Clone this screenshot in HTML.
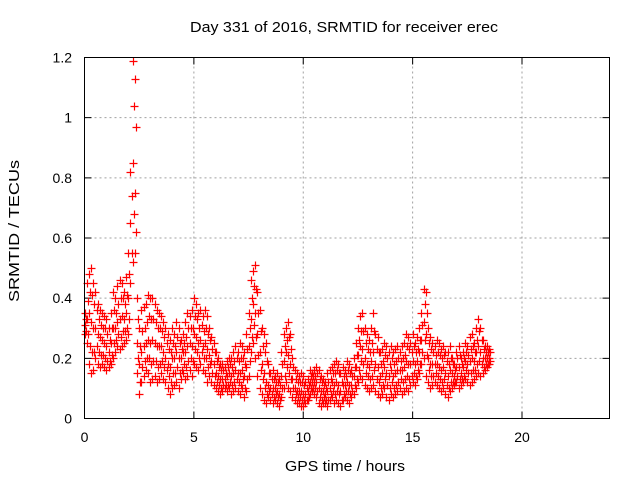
<!DOCTYPE html>
<html><head><meta charset="utf-8"><style>
body{margin:0;background:#fff}
svg text{font-family:"Liberation Sans",sans-serif;font-size:14px;fill:#000}
</style></head><body>
<svg id="chart" width="640" height="480" viewBox="0 0 640 480" xmlns="http://www.w3.org/2000/svg">
<rect width="640" height="480" fill="#fff"/>
<text x="190" y="32" textLength="308" lengthAdjust="spacingAndGlyphs" style="font-size:15px">Day 331 of 2016, SRMTID for receiver erec</text>
<text transform="translate(19,302) rotate(-90)" textLength="142" lengthAdjust="spacingAndGlyphs" style="font-size:15px">SRMTID / TECUs</text>
<text x="285" y="471" textLength="120" lengthAdjust="spacingAndGlyphs" style="font-size:15px">GPS time / hours</text>
<g id="grid"></g>
<g id="ticks"></g>
<g id="marks"></g>
<rect x="84.5" y="57.5" width="525" height="361" fill="none" stroke="#000"/>
</svg>
<script>
const xTicks=[0,5,10,15,20];
const yTicks=[0,0.2,0.4,0.6,0.8,1,1.2];
const yTickLabels=["0","0.2","0.4","0.6","0.8","1","1.2"];
const tStart=0, tStep=0.1;
const hiVals=[.35,.45,.48,.50,.45,.42,.38,.36,.35,.34,.33,.30,.35,.42,.40,.44,.46,.45,.42,.47,.55,.82,1.19,1.13,.40,.30,.36,.37,.38,.41,.40,.40,.38,.36,.35,.34,.32,.30,.28,.26,.30,.28,.32,.30,.26,.28,.32,.35,.34,.36,.40,.38,.35,.36,.34,.36,.34,.30,.27,.25,.22,.20,.18,.18,.17,.19,.20,.20,.22,.24,.22,.25,.24,.22,.28,.35,.46,.49,.51,.42,.36,.30,.28,.25,.18,.15,.16,.14,.15,.13,.22,.28,.30,.32,.28,.20,.16,.15,.14,.15,.14,.12,.13,.16,.15,.16,.17,.16,.14,.13,.12,.15,.16,.17,.18,.19,.18,.15,.17,.16,.19,.18,.16,.20,.25,.30,.34,.35,.30,.28,.26,.30,.35,.28,.27,.22,.23,.25,.24,.22,.24,.22,.23,.24,.22,.24,.25,.28,.27,.25,.28,.25,.27,.30,.35,.43,.42,.30,.27,.25,.24,.26,.25,.23,.24,.22,.22,.24,.20,.18,.22,.24,.20,.22,.25,.24,.27,.28,.25,.30,.33,.30,.26,.24,.24,.23];
const q3Vals=[.33,.39,.42,.41,.38,.36,.33,.31,.30,.30,.28,.26,.30,.36,.35,.38,.40,.40,.38,.41,.48,.74,1.04,.97,.33,.24,.29,.30,.32,.34,.33,.33,.32,.30,.30,.29,.27,.25,.23,.22,.25,.24,.27,.25,.23,.25,.27,.30,.30,.30,.34,.33,.30,.31,.29,.30,.28,.26,.23,.22,.19,.17,.16,.16,.15,.17,.18,.17,.19,.20,.19,.20,.20,.18,.23,.30,.40,.44,.43,.35,.29,.24,.22,.19,.15,.13,.13,.12,.12,.11,.18,.24,.26,.27,.23,.17,.13,.12,.12,.12,.11,.10,.11,.14,.14,.14,.15,.13,.12,.11,.10,.12,.13,.15,.15,.16,.15,.12,.14,.14,.16,.15,.14,.17,.21,.26,.29,.29,.25,.23,.22,.25,.29,.23,.22,.18,.19,.21,.20,.18,.20,.18,.19,.20,.19,.20,.21,.24,.23,.22,.24,.22,.23,.26,.31,.38,.35,.25,.23,.22,.21,.22,.21,.20,.21,.19,.18,.20,.18,.16,.20,.21,.18,.20,.22,.21,.23,.24,.22,.26,.29,.26,.23,.22,.22,.22];
const midVals=[.31,.33,.35,.32,.30,.30,.28,.27,.26,.25,.24,.22,.25,.30,.30,.32,.33,.34,.33,.35,.40,.65,.85,.75,.25,.18,.22,.24,.25,.26,.25,.26,.25,.24,.24,.24,.22,.20,.18,.17,.20,.20,.22,.20,.20,.22,.22,.24,.25,.24,.28,.27,.25,.26,.24,.25,.23,.21,.19,.18,.15,.14,.13,.13,.13,.14,.15,.14,.15,.16,.15,.15,.16,.14,.17,.24,.33,.38,.35,.28,.22,.18,.15,.12,.11,.10,.10,.10,.09,.08,.14,.19,.22,.21,.18,.13,.10,.09,.09,.09,.08,.08,.09,.12,.12,.12,.12,.10,.09,.09,.08,.09,.10,.12,.11,.12,.11,.09,.11,.11,.12,.11,.11,.14,.17,.21,.24,.23,.20,.18,.17,.19,.22,.18,.17,.14,.15,.17,.15,.14,.16,.14,.15,.16,.16,.16,.17,.19,.18,.18,.19,.18,.19,.22,.26,.32,.28,.20,.18,.18,.18,.18,.17,.16,.17,.15,.14,.16,.15,.14,.17,.17,.15,.17,.19,.18,.19,.20,.19,.22,.24,.22,.20,.20,.20,.20];
const q1Vals=[.29,.28,.24,.22,.22,.24,.22,.21,.21,.20,.19,.19,.21,.25,.26,.28,.27,.29,.29,.30,.33,.55,.68,.62,.20,.12,.17,.19,.20,.20,.18,.19,.19,.17,.18,.19,.17,.16,.14,.12,.15,.15,.17,.15,.16,.18,.17,.19,.20,.19,.23,.22,.20,.22,.20,.20,.17,.18,.15,.14,.12,.11,.10,.11,.11,.11,.12,.11,.12,.13,.12,.11,.13,.10,.13,.19,.27,.31,.27,.21,.16,.13,.10,.08,.09,.08,.07,.08,.07,.06,.10,.14,.17,.15,.13,.10,.08,.07,.07,.06,.06,.06,.07,.10,.10,.10,.09,.07,.06,.07,.06,.06,.08,.09,.08,.09,.08,.06,.08,.09,.09,.08,.09,.11,.13,.16,.19,.18,.15,.14,.13,.14,.16,.13,.12,.10,.11,.13,.11,.10,.12,.10,.11,.12,.13,.12,.13,.14,.13,.14,.15,.14,.16,.18,.22,.26,.21,.16,.14,.14,.15,.14,.13,.12,.13,.11,.10,.12,.12,.12,.14,.13,.13,.14,.16,.15,.15,.16,.16,.18,.19,.18,.17,.18,.18,.19];
const loVals=[.28,.25,.18,.15,.16,.20,.18,.17,.18,.17,.16,.17,.18,.20,.22,.24,.23,.24,.25,.26,.28,.45,.52,.55,.15,.08,.12,.14,.16,.15,.12,.13,.14,.12,.13,.15,.13,.12,.10,.08,.10,.11,.12,.10,.13,.15,.13,.14,.16,.14,.18,.17,.16,.18,.16,.15,.12,.14,.12,.11,.10,.09,.08,.09,.10,.09,.10,.08,.09,.10,.09,.08,.10,.07,.09,.14,.22,.25,.20,.14,.10,.08,.06,.05,.07,.06,.05,.06,.05,.04,.07,.10,.12,.10,.09,.07,.06,.05,.05,.04,.04,.05,.06,.08,.09,.08,.07,.05,.04,.05,.05,.04,.06,.07,.05,.06,.05,.04,.06,.07,.06,.05,.07,.08,.10,.12,.14,.13,.11,.10,.09,.10,.11,.09,.08,.07,.08,.10,.07,.06,.08,.07,.08,.09,.10,.08,.09,.10,.09,.11,.12,.11,.13,.15,.18,.20,.14,.12,.10,.11,.12,.11,.10,.09,.10,.08,.07,.09,.10,.11,.12,.10,.11,.12,.13,.12,.11,.12,.13,.14,.15,.14,.15,.16,.17,.18];
const NS="http://www.w3.org/2000/svg";
const X0=84.5,X1=609.5,Y0=418.5,Y1=57.5;
function xs(t){return X0+(t-0)/(24-0)*(X1-X0);}
function ys(v){return Y0-(v-0)/(1.2-0)*(Y0-Y1);}
const grid=document.getElementById('grid'),ticks=document.getElementById('ticks'),marks=document.getElementById('marks');
function mk(tag,attrs,parent){const e=document.createElementNS(NS,tag);for(const k in attrs)e.setAttribute(k,attrs[k]);parent.appendChild(e);return e;}
xTicks.forEach(t=>{
  const x=xs(t);
  if(t>0){const l=mk('line',{x1:x,x2:x,y1:Y0,y2:Y1,stroke:'#a0a0a0','stroke-dasharray':'2,3'},grid);
  
  }
  const tk=mk('path',{d:`M${x},${Y0}v-7M${x},${Y1}v7`,stroke:'#000'},grid);
  
  
  const tx=mk('text',{x:x,y:442,'text-anchor':'middle'},ticks);tx.textContent=String(t);
  
  
});
yTicks.forEach((v,i)=>{
  const y=ys(v);
  if(v>0&&v<1.2){const l=mk('line',{x1:X0,x2:X1,y1:y,y2:y,stroke:'#a0a0a0','stroke-dasharray':'2,3'},grid);
  
  }
  const tk=mk('path',{d:`M${X0},${y}h7M${X1},${y}h-7`,stroke:'#000'},grid);
  
  
  const tx=mk('text',{x:72,y:y+5,'text-anchor':'end'},ticks);tx.textContent=yTickLabels[i];
  
  
});
const seriesList=[[loVals,0],[q1Vals,0.05],[midVals,0],[q3Vals,0.05],[hiVals,0]];
seriesList.forEach(([arr,dt])=>{
  arr.forEach((v,i)=>{
    const t=tStart+i*tStep+dt;
    const x=Math.round(xs(t))+0.5,y=Math.round(ys(v))+0.5;
    const p=mk('path',{d:`M${x-4},${y}h8M${x},${y-4}v8`,stroke:'#f00','stroke-width':1.2},marks);
    
    
  });
});
</script>
</body></html>
